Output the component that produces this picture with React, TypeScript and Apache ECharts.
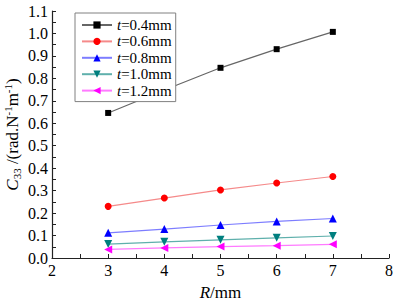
import React, { useEffect, useRef } from "react";
import * as echarts from "echarts";

const radii = [3, 4, 5, 6, 7];
const seriesNames = ["0.4mm", "0.6mm", "0.8mm", "1.0mm", "1.2mm"];
const t04 = [0.646, 0.748, 0.847, 0.93, 1.007];
const t06 = [0.23, 0.267, 0.303, 0.334, 0.363];
const t08 = [0.112, 0.129, 0.147, 0.163, 0.176];
const t10 = [0.062, 0.072, 0.081, 0.09, 0.098];
const t12 = [0.038, 0.045, 0.051, 0.055, 0.061];
const yTicks = [0, 0.1, 0.2, 0.3, 0.4, 0.5, 0.6, 0.7, 0.8, 0.9, 1.0, 1.1];
const xTicks = [2, 3, 4, 5, 6, 7, 8];

const FONT = "Liberation Serif";

export default function App() {
  const ref = useRef<HTMLDivElement>(null);
  useEffect(() => {
    if (!ref.current) return;
    const chart = echarts.init(ref.current, undefined, { renderer: "svg" });
    const values = [t04, t06, t08, t10, t12];
    const markerColors = ["#000000", "#ff0000", "#0000ff", "#007f7f", "#ff00ff"];
    const lineColors = ["#666666", "#f58a8a", "#7d7dff", "#5fb0ac", "#ff7aff"];
    const symbols = [
      "rect",
      "circle",
      "triangle",
      "path://M0,0L10,0L5,9Z",
      "path://M10,0L10,10L1,5Z",
    ];
    const sizes = [6, 7, 8, 8, 8];
    chart.setOption({
      animation: false,
      textStyle: { fontFamily: FONT },
      grid: { left: 52, right: 7, top: 11, bottom: 50, outerBoundsMode: "none", containLabel: false },
      legend: {
        orient: "vertical",
        left: 75,
        top: 13,
        padding: [4, 4, 3, 6],
        itemWidth: 30,
        itemHeight: 9,
        itemGap: 0.4,
        borderColor: "#808080",
        borderWidth: 1,
        backgroundColor: "#ffffff",
        textStyle: {
          fontFamily: FONT,
          fontSize: 15,
          color: "#000",
          lineHeight: 16,
          rich: {
            i: { fontStyle: "italic", fontFamily: FONT, fontSize: 15, lineHeight: 16, color: "#000" },
            n: { fontFamily: FONT, fontSize: 15, lineHeight: 16, color: "#000" },
          },
        },
        formatter: (name: string) => "{i|t}{n|=" + name + "}",
        data: seriesNames,
      },
      xAxis: {
        type: "value",
        min: xTicks[0],
        max: xTicks[xTicks.length - 1],
        interval: 1,
        name: "{i|R}{n|/mm}",
        nameLocation: "middle",
        nameGap: 26,
        nameMoveOverlap: false,
        nameTextStyle: {
          rich: {
            i: { fontStyle: "italic", fontFamily: FONT, fontSize: 17, color: "#000" },
            n: { fontFamily: FONT, fontSize: 17, color: "#000" },
          },
        },
        axisLine: { lineStyle: { color: "#222", width: 1.2 } },
        axisTick: { inside: true, length: 4, lineStyle: { color: "#222" } },
        minorTick: { show: true, splitNumber: 2, length: 4, lineStyle: { color: "#222" } },
        axisLabel: { fontFamily: FONT, fontSize: 16, color: "#000", margin: 4 },
        splitLine: { show: false },
      },
      yAxis: {
        type: "value",
        min: yTicks[0],
        max: yTicks[yTicks.length - 1],
        interval: 0.1,
        name: "{i|C}{sub|33}{n| /(rad.N}{sup|-1}{n|m}{sup|-1}{n|)}",
        nameLocation: "middle",
        nameGap: 30,
        nameMoveOverlap: false,
        nameTextStyle: {
          rich: {
            i: { fontStyle: "italic", fontFamily: FONT, fontSize: 17, color: "#000", lineHeight: 20 },
            n: { fontFamily: FONT, fontSize: 17, color: "#000", lineHeight: 20 },
            sub: { fontFamily: FONT, fontSize: 11, color: "#000", verticalAlign: "bottom", lineHeight: 20 },
            sup: { fontFamily: FONT, fontSize: 11, color: "#000", verticalAlign: "top", lineHeight: 20 },
          },
        },
        axisLine: { show: true, lineStyle: { color: "#222", width: 1.2 } },
        axisTick: { show: true, inside: true, length: 4, lineStyle: { color: "#222" } },
        minorTick: { show: true, splitNumber: 2, length: 4, lineStyle: { color: "#222" } },
        axisLabel: {
          fontFamily: FONT,
          fontSize: 16,
          color: "#000",
          margin: 4,
          formatter: (v: number) => v.toFixed(1),
        },
        splitLine: { show: false },
      },
      series: values.map((vals, i) => ({
        name: seriesNames[i],
        type: "line",
        data: radii.map((r, j) => [r, vals[j]]),
        symbol: symbols[i],
        symbolSize: sizes[i],
        showAllSymbol: true,
        itemStyle: { color: markerColors[i] },
        lineStyle: { color: lineColors[i], width: 1.2 },
        z: 2,
      })),
    });
    return () => chart.dispose();
  }, []);
  return (
    <div
      ref={ref}
      style={{ position: "fixed", left: 0, top: 0, width: 396, height: 308, background: "#fff" }}
    />
  );
}
